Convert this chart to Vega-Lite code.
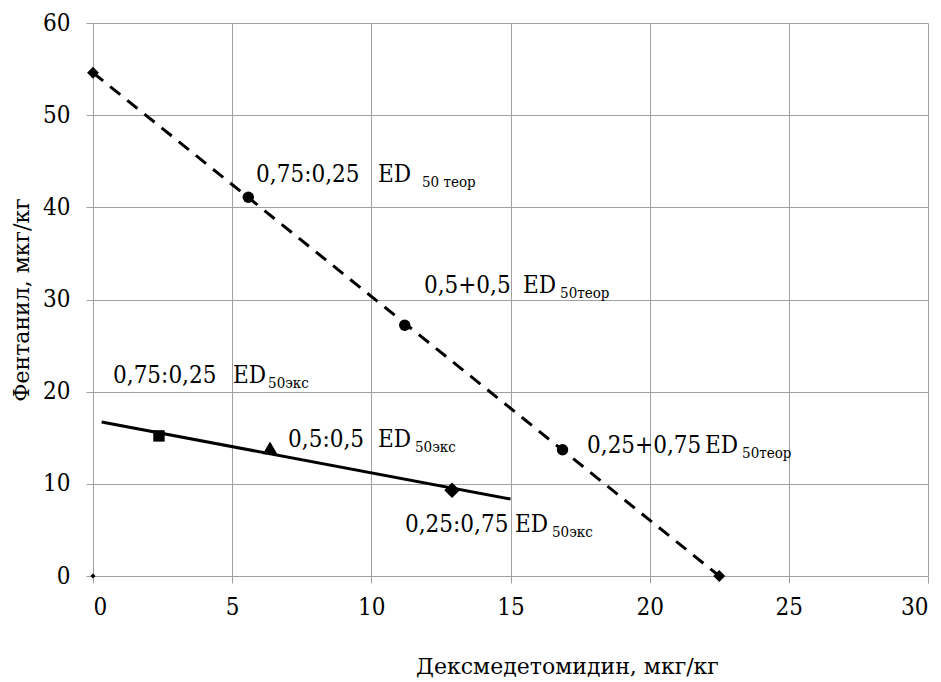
{
  "$schema": "https://vega.github.io/schema/vega-lite/v6.json",
  "width": 835,
  "height": 553,
  "autosize": {"type": "none"},
  "padding": {"left": 93, "top": 23, "right": 13, "bottom": 106},
  "background": "white",
  "config": {
    "view": {"stroke": null},
    "font": "DejaVu Serif Condensed",
    "axis": {
      "domain": false,
      "grid": true,
      "gridColor": "#a0a0a0",
      "gridWidth": 1,
      "tickColor": "#a0a0a0",
      "tickSize": 7,
      "labelFont": "DejaVu Serif Condensed",
      "labelFontSize": 24,
      "labelColor": "black",
      "titleFont": "DejaVu Serif",
      "titleFontSize": 22,
      "titleFontWeight": "normal",
      "titleColor": "black"
    }
  },
  "datasets": {
    "theorLine": [{"x": 0, "y": 54.6}, {"x": 22.5, "y": 0}],
    "expLine": [{"x": 0.31, "y": 16.7}, {"x": 15.0, "y": 8.35}],
    "points": [
      {"x": 5.58, "y": 41.1, "marker": "теор"},
      {"x": 11.2, "y": 27.2, "marker": "теор"},
      {"x": 16.87, "y": 13.7, "marker": "теор"},
      {"x": 2.37, "y": 15.2, "marker": "экс 0,75:0,25"},
      {"x": 6.36, "y": 13.9, "marker": "экс 0,5:0,5"},
      {"x": 12.9, "y": 9.3, "marker": "экс 0,25:0,75"}
    ],
    "ends": [{"x": 0, "y": 54.6}, {"x": 22.5, "y": 0}],
    "origin": [{"x": 0, "y": 0}],
    "labels": [
      {"part": "main", "x": 5.86, "y": 42.75, "t": "0,75:0,25"},
      {"part": "main", "x": 11.89, "y": 30.7, "t": "0,5+0,5"},
      {"part": "main", "x": 0.72, "y": 20.94, "t": "0,75:0,25"},
      {"part": "main", "x": 7.01, "y": 14.0, "t": "0,5:0,5"},
      {"part": "main", "x": 17.75, "y": 13.34, "t": "0,25+0,75"},
      {"part": "main", "x": 11.21, "y": 4.77, "t": "0,25:0,75"},
      {"part": "ed", "x": 10.24, "y": 42.75, "t": "ED"},
      {"part": "ed", "x": 15.45, "y": 30.7, "t": "ED"},
      {"part": "ed", "x": 5.03, "y": 20.94, "t": "ED"},
      {"part": "ed", "x": 10.24, "y": 14.0, "t": "ED"},
      {"part": "ed", "x": 21.99, "y": 13.34, "t": "ED"},
      {"part": "ed", "x": 15.16, "y": 4.77, "t": "ED"},
      {"part": "sub", "x": 11.82, "y": 42.2, "t": "50 теор"},
      {"part": "sub", "x": 16.78, "y": 30.16, "t": "50теор"},
      {"part": "sub", "x": 6.29, "y": 20.4, "t": "50экс"},
      {"part": "sub", "x": 11.57, "y": 13.45, "t": "50экс"},
      {"part": "sub", "x": 23.32, "y": 12.8, "t": "50теор"},
      {"part": "sub", "x": 16.49, "y": 4.23, "t": "50экс"}
    ]
  },
  "encoding": {
    "x": {
      "field": "x", "type": "quantitative",
      "scale": {"domain": [0, 30], "nice": false},
      "axis": {"values": [0, 5, 10, 15, 20, 25, 30], "labelPadding": 12, "labelFont": "DejaVu Serif Condensed", "labelFontSize": 24, "title": "Дексмедетомидин, мкг/кг", "titleX": 474, "titleAnchor": "middle", "titleAlign": "center", "titleY": 97, "titleBaseline": "alphabetic"}
    },
    "y": {
      "field": "y", "type": "quantitative",
      "scale": {"domain": [0, 60], "nice": false},
      "axis": {"values": [0, 10, 20, 30, 40, 50, 60], "labelPadding": 16, "labelFont": "DejaVu Serif Condensed", "labelFontSize": 24, "title": "Фентанил, мкг/кг", "titleX": -65, "titleBaseline": "alphabetic", "titleAngle": -90}
    }
  },
  "layer": [
    {
      "data": {"name": "theorLine"},
      "mark": {"type": "line", "color": "black", "strokeWidth": 3, "strokeDash": [13, 9]}
    },
    {
      "data": {"name": "expLine"},
      "mark": {"type": "line", "color": "black", "strokeWidth": 3}
    },
    {
      "data": {"name": "points"},
      "mark": {"type": "point", "filled": true, "opacity": 1, "color": "black"},
      "encoding": {
        "shape": {
          "field": "marker", "type": "nominal", "legend": null,
          "scale": {"domain": ["теор", "экс 0,75:0,25", "экс 0,5:0,5", "экс 0,25:0,75"], "range": ["circle", "square", "triangle-up", "diamond"]}
        },
        "size": {
          "field": "marker", "type": "nominal", "legend": null,
          "scale": {"type": "ordinal", "domain": ["теор", "экс 0,75:0,25", "экс 0,5:0,5", "экс 0,25:0,75"], "range": [130, 130, 220, 240]}
        }
      }
    },
    {
      "data": {"name": "ends"},
      "mark": {"type": "point", "filled": true, "opacity": 1, "color": "black", "size": 140, "shape": "diamond"}
    },
    {
      "data": {"name": "origin"},
      "mark": {"type": "point", "filled": true, "opacity": 1, "color": "black", "size": 25, "shape": "diamond"}
    },
    {
      "data": {"name": "labels"},
      "transform": [{"filter": "datum.part === 'main' || datum.part === 'ed'"}],
      "mark": {"type": "text", "align": "left", "baseline": "alphabetic", "font": "DejaVu Serif Condensed", "fontSize": 24, "color": "black"},
      "encoding": {"text": {"field": "t"}}
    },
    {
      "data": {"name": "labels"},
      "transform": [{"filter": "datum.part === 'sub'"}],
      "mark": {"type": "text", "align": "left", "baseline": "alphabetic", "font": "DejaVu Serif Condensed", "fontSize": 15, "color": "black"},
      "encoding": {"text": {"field": "t"}}
    }
  ]
}
